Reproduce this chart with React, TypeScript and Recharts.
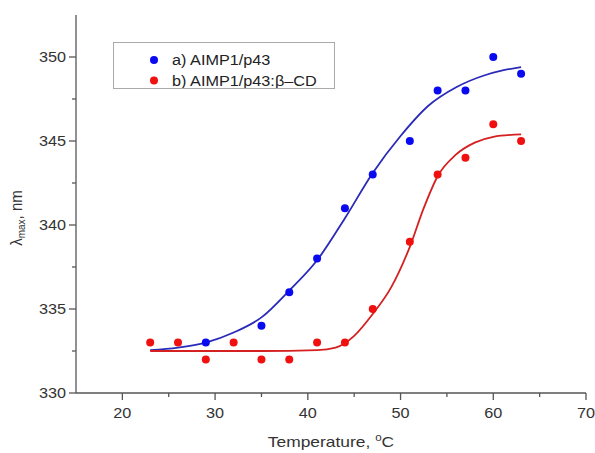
import { ComposedChart, Scatter, Line, XAxis, YAxis, Legend } from 'recharts';

// measured points
const tempsBlue = [29, 35, 38, 41, 44, 47, 51, 54, 57, 60, 63];
const valuesBlue = [333, 334, 336, 338, 341, 343, 345, 348, 348, 350, 349];
const tempsRed = [23, 26, 29, 32, 35, 38, 41, 44, 47, 51, 54, 57, 60, 63];
const valuesRed = [333, 333, 332, 333, 332, 332, 333, 333, 335, 339, 343, 344, 346, 345];

// fitted curves
const fitTempsBlue = [23, 26, 29, 32, 35, 38, 41, 44, 47, 50, 53, 56, 59, 61, 63];
const fitValuesBlue = [332.55, 332.7, 333.0, 333.6, 334.5, 336.1, 337.9, 340.4, 343.1, 345.3, 347.1, 348.2, 348.9, 349.2, 349.4];
const fitTempsRed = [23, 29, 35, 41, 43, 45, 47, 49, 51, 52.5, 54, 56, 58, 60, 63];
const fitValuesRed = [332.5, 332.5, 332.5, 332.55, 332.7, 333.4, 334.7, 336.3, 338.7, 341.0, 342.9, 344.2, 344.9, 345.25, 345.4];

const xTicks = [20, 25, 30, 35, 40, 45, 50, 55, 60, 65, 70];
const yTicks = [330, 332.5, 335, 337.5, 340, 342.5, 345, 347.5, 350];
const seriesNames = ['a) AIMP1/p43', 'b) AIMP1/p43:\u03B2\u2013CD'];

const AXIS = '#555';
const TEXT = '#333';
const FONT = '"Liberation Sans", Arial, sans-serif';
const BLUE = '#0a0af0';
const BLUE_LINE = '#2a2ab8';
const RED = '#f01010';
const RED_LINE = '#d42020';
const STRETCH = 1.16;

const toRows = (xs: number[], ys: number[]) => xs.map((t, i) => ({ t, v: ys[i] }));

const blueData = toRows(tempsBlue, valuesBlue);
const redData = toRows(tempsRed, valuesRed);
const blueFit = toRows(fitTempsBlue, fitValuesBlue);
const redFit = toRows(fitTempsRed, fitValuesRed);

function XTick({ x, y, payload }: any) {
  const major = payload.value % 10 === 0;
  return (
    <g>
      <line x1={x} x2={x} y1={y} y2={y + (major ? 7 : 4)} stroke={AXIS} strokeWidth={1.3} />
      {major && (
        <text
          transform={`translate(${x},${y + 25}) scale(${STRETCH},1)`}
          textAnchor="middle"
          fontSize={14}
          fontFamily={FONT}
          fill={TEXT}
        >
          {payload.value}
        </text>
      )}
    </g>
  );
}

function YTick({ x, y, payload }: any) {
  const major = payload.value % 5 === 0;
  return (
    <g>
      <line x1={x - (major ? 7 : 4)} x2={x} y1={y} y2={y} stroke={AXIS} strokeWidth={1.3} />
      {major && (
        <text
          transform={`translate(${x - 10},${y + 5}) scale(${STRETCH},1)`}
          textAnchor="end"
          fontSize={14}
          fontFamily={FONT}
          fill={TEXT}
        >
          {payload.value}
        </text>
      )}
    </g>
  );
}

function XLabel({ viewBox }: any) {
  const cx = viewBox.x + viewBox.width / 2;
  const by = viewBox.y + 54;
  return (
    <text transform={`translate(${cx},${by}) scale(${STRETCH},1)`} textAnchor="middle" fontSize={15} fontFamily={FONT} fill={TEXT}>
      Temperature, <tspan fontSize={10} dy={-6}>o</tspan>
      <tspan dy={6}>C</tspan>
    </text>
  );
}

function YLabel({ viewBox }: any) {
  const cx = 22;
  const cy = viewBox.y + viewBox.height / 2 + 14;
  return (
    <text transform={`translate(${cx},${cy}) rotate(-90) scale(1,${STRETCH})`} textAnchor="middle" fontSize={15} fontFamily={FONT} fill={TEXT}>
      λ<tspan fontSize={10} dy={3}>max</tspan>
      <tspan dy={-3}>, nm</tspan>
    </text>
  );
}

function LegendBox() {
  const colors = [BLUE, RED];
  return (
    <div
      style={{
        width: 222,
        height: 47,
        border: '1px solid #aaa',
        background: '#fff',
        boxSizing: 'border-box',
      }}
    >
      <svg width={220} height={45}>
        {seriesNames.map((name, i) => (
          <g key={name}>
            <circle cx={40} cy={17 + i * 20.5} r={4} fill={colors[i]} />
            <text
              transform={`translate(58,${22 + i * 20.5}) scale(${STRETCH},1)`}
              fontSize={14}
              fontFamily={FONT}
              fill="#222"
            >
              {name}
            </text>
          </g>
        ))}
      </svg>
    </div>
  );
}

export default function App() {
  return (
    <div style={{ position: 'absolute', left: 0, top: 0, background: '#fff' }}>
      <ComposedChart width={595} height={453} margin={{ top: 15, right: 9, left: 0, bottom: 0 }}>
        <XAxis
          dataKey="t"
          type="number"
          domain={[15, 70]}
          ticks={xTicks}
          interval={0}
          allowDataOverflow
          height={60}
          tickSize={0}
          tickMargin={0}
          tickLine={false}
          axisLine={{ stroke: AXIS, strokeWidth: 1.3 }}
          tick={<XTick />}
          label={{ content: <XLabel /> }}
        />
        <YAxis
          type="number"
          domain={[330, 352.5]}
          ticks={yTicks}
          interval={0}
          allowDataOverflow
          width={76}
          tickSize={0}
          tickMargin={0}
          tickLine={false}
          axisLine={{ stroke: AXIS, strokeWidth: 1.3 }}
          tick={<YTick />}
          label={{ content: <YLabel /> }}
        />
        <Line data={blueFit} dataKey="v" type="monotone" stroke={BLUE_LINE} strokeWidth={1.8} dot={false} isAnimationActive={false} legendType="none" />
        <Line data={redFit} dataKey="v" type="monotone" stroke={RED_LINE} strokeWidth={1.8} dot={false} isAnimationActive={false} legendType="none" />
        <Scatter data={blueData} dataKey="v" fill={BLUE} isAnimationActive={false} shape={(p: any) => <circle cx={p.cx} cy={p.cy} r={4} fill={BLUE} />} />
        <Scatter data={redData} dataKey="v" fill={RED} isAnimationActive={false} shape={(p: any) => <circle cx={p.cx} cy={p.cy} r={4} fill={RED} />} />
        <Legend
          layout="vertical"
          align="center"
          verticalAlign="middle"
          wrapperStyle={{ left: 113, top: 42, width: 222 }}
          content={() => <LegendBox />}
        />
      </ComposedChart>
    </div>
  );
}
